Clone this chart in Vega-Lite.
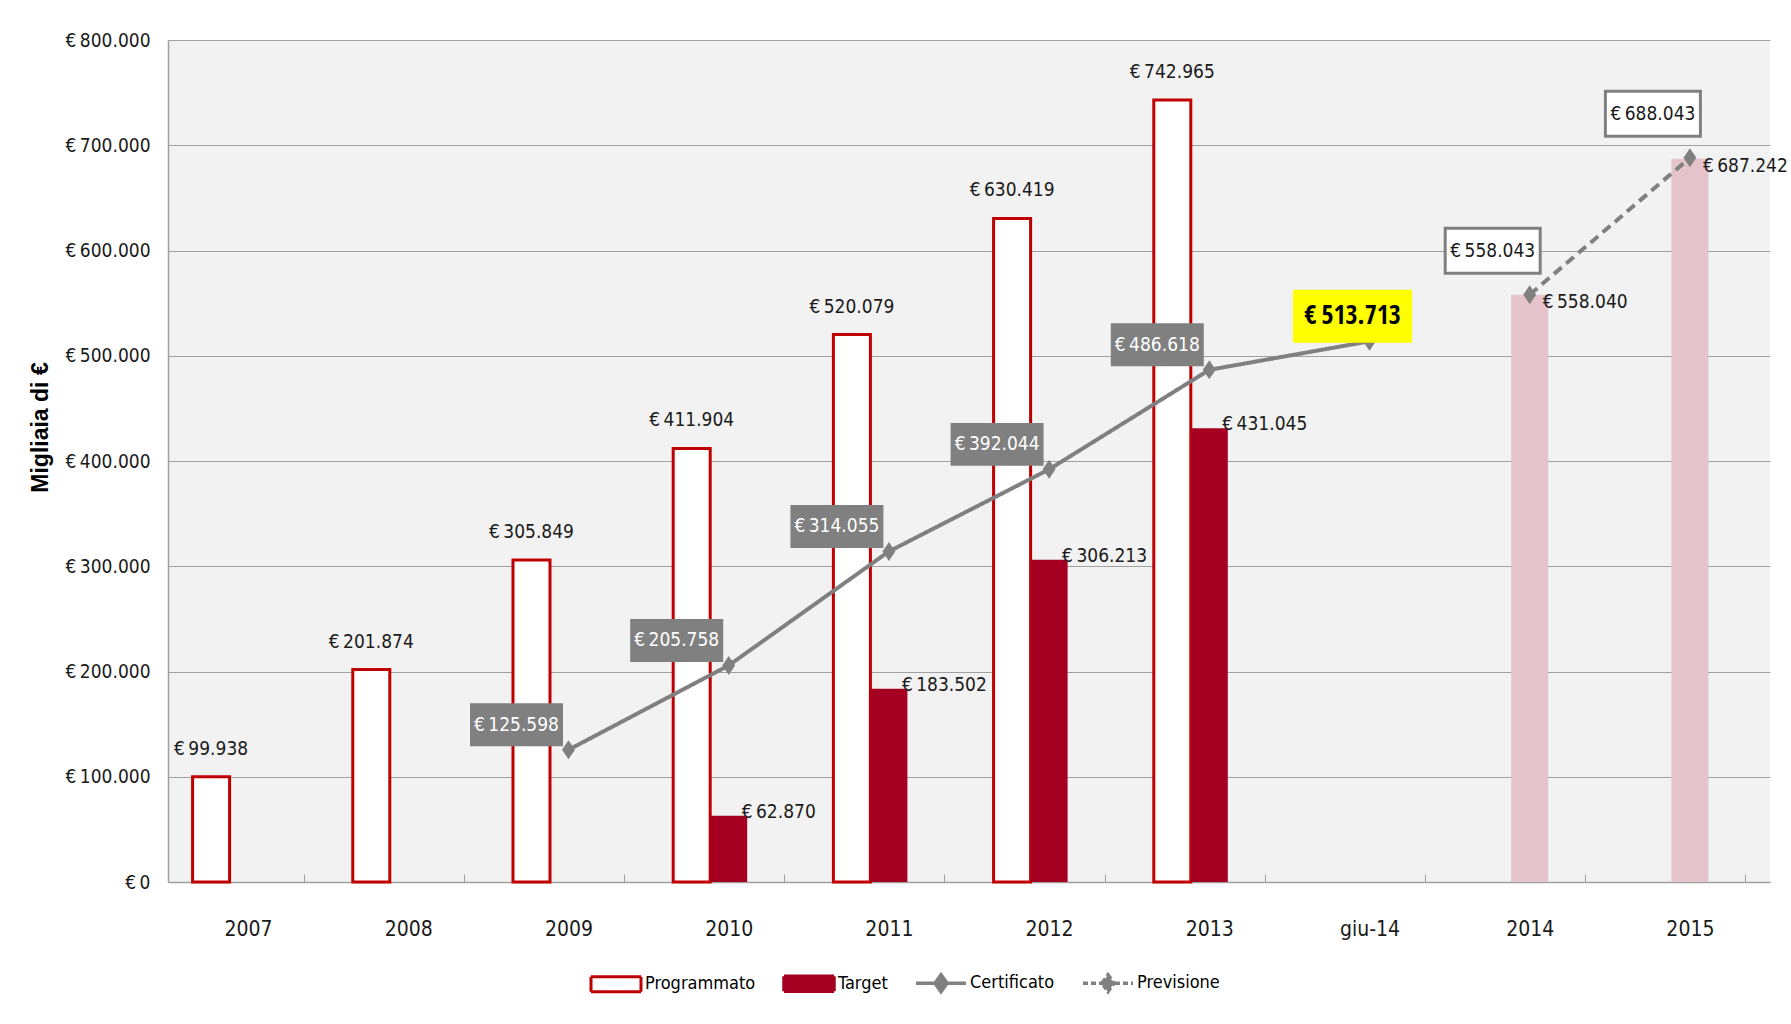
{
  "$schema": "https://vega.github.io/schema/vega-lite/v6.json",
  "width": 1602,
  "height": 842,
  "autosize": "none",
  "padding": {"left": 168, "top": 40, "right": 21, "bottom": 142},
  "background": "#FFFFFF",
  "datasets": {
    "barre": [
      {"anno": "2007", "serie": "Programmato", "tipo": "Consuntivo", "valore": 99938},
      {"anno": "2008", "serie": "Programmato", "tipo": "Consuntivo", "valore": 201874},
      {"anno": "2009", "serie": "Programmato", "tipo": "Consuntivo", "valore": 305849},
      {"anno": "2010", "serie": "Programmato", "tipo": "Consuntivo", "valore": 411904},
      {"anno": "2011", "serie": "Programmato", "tipo": "Consuntivo", "valore": 520079},
      {"anno": "2012", "serie": "Programmato", "tipo": "Consuntivo", "valore": 630419},
      {"anno": "2013", "serie": "Programmato", "tipo": "Consuntivo", "valore": 742965},
      {"anno": "2010", "serie": "Target", "tipo": "Consuntivo", "valore": 62870},
      {"anno": "2011", "serie": "Target", "tipo": "Consuntivo", "valore": 183502},
      {"anno": "2012", "serie": "Target", "tipo": "Consuntivo", "valore": 306213},
      {"anno": "2013", "serie": "Target", "tipo": "Consuntivo", "valore": 431045},
      {"anno": "2014", "serie": "Target", "tipo": "Previsto", "valore": 558040},
      {"anno": "2015", "serie": "Target", "tipo": "Previsto", "valore": 687242}
    ],
    "linee": [
      {"anno": "2009", "serie": "Certificato", "valore": 125598},
      {"anno": "2010", "serie": "Certificato", "valore": 205758},
      {"anno": "2011", "serie": "Certificato", "valore": 314055},
      {"anno": "2012", "serie": "Certificato", "valore": 392044},
      {"anno": "2013", "serie": "Certificato", "valore": 486618},
      {"anno": "giu-14", "serie": "Certificato", "valore": 513713},
      {"anno": "2014", "serie": "Previsione", "valore": 558043},
      {"anno": "2015", "serie": "Previsione", "valore": 688043}
    ]
  },
  "encoding": {
    "x": {
      "field": "anno", "type": "nominal",
      "scale": {"domain": ["2007","2008","2009","2010","2011","2012","2013","giu-14","2014","2015"], "paddingInner": 0.307, "paddingOuter": 0.1535},
      "axis": {
        "title": null, "labelAngle": 0, "labelFont": "DejaVu Sans Condensed, Liberation Sans", "labelFontSize": 21, "labelColor": "#1a1a1a",
        "labelPadding": 44, "domainColor": "#A0A0A0", "domainWidth": 1.5, "tickColor": "#A0A0A0", "tickSize": -8, "tickBand": "extent", "grid": false
      }
    },
    "y": {
      "field": "valore", "type": "quantitative",
      "scale": {"domain": [0, 800000], "nice": false},
      "axis": {
        "title": "Migliaia di €", "values": [0,100000,200000,300000,400000,500000,600000,700000,800000],
        "format": "$,.0f", "labelFont": "DejaVu Sans Condensed, Liberation Sans", "labelFontSize": 19, "labelColor": "#1a1a1a",
        "labelPadding": 18, "ticks": false, "grid": true, "gridColor": "#A0A0A0", "gridWidth": 1.2, "domainColor": "#A0A0A0", "domainWidth": 1.5,
        "titleFont": "Liberation Sans", "titleFontSize": 23, "titleFontWeight": "bold", "titleColor": "#000000",
        "titleX": -128, "titleY": 387, "titleAngle": 270, "titleAlign": "center", "titleBaseline": "middle"
      }
    }
  },
  "layer": [
    {
      "data": {"name": "barre"},
      "transform": [{"filter": "datum.serie == 'Programmato'"}],
      "mark": {"type": "bar", "fill": "#FFFFFF", "stroke": "#C00000", "strokeWidth": 3},
      "encoding": {"xOffset": {"field": "serie", "scale": {"domain": ["Programmato", "Target", "Altro"]}}}
    },
    {
      "data": {"name": "barre"},
      "transform": [{"filter": "datum.serie == 'Target' && datum.tipo == 'Consuntivo'"}],
      "mark": {"type": "bar", "fill": "#A50021"},
      "encoding": {"xOffset": {"field": "serie"}}
    },
    {
      "data": {"name": "barre"},
      "transform": [{"filter": "datum.tipo == 'Previsto'"}],
      "mark": {"type": "bar", "fill": "#E4C3CB"},
      "encoding": {"xOffset": {"field": "serie"}}
    },
    {
      "data": {"name": "linee"},
      "mark": {"type": "line", "strokeWidth": 4},
      "encoding": {
        "color": {
          "field": "serie", "type": "nominal",
          "scale": {"domain": ["Programmato", "Target", "Certificato", "Previsione"], "range": ["#C00000", "#A50021", "#808080", "#808080"]},
          "legend": {
            "title": null, "orient": "none", "legendX": 439, "legendY": 934, "direction": "horizontal",
            "symbolSize": 2500, "labelFont": "DejaVu Sans Condensed, Liberation Sans", "labelFontSize": 18, "labelColor": "#000000",
            "labelOffset": 20, "columnPadding": 21, "padding": 0,
            "encode": {
              "symbols": {
                "update": {
                  "shape": {"signal": "(datum.value == 'Certificato' || datum.value == 'Previsione') ? 'M-1,0H1M0,-0.34L0.24,0L0,0.34L-0.24,0Z' : 'M-1,-0.3H1V0.3H-1Z'"},
                  "fill": {"signal": "datum.value == 'Programmato' ? '#FFFFFF' : (datum.value == 'Target' ? '#A50021' : '#808080')"},
                  "stroke": {"signal": "datum.value == 'Programmato' ? '#C00000' : (datum.value == 'Target' ? '#A50021' : '#808080')"},
                  "strokeWidth": {"signal": "datum.value == 'Programmato' ? 3 : 3.5"},
                  "strokeDash": {"signal": "datum.value == 'Previsione' ? [5, 3] : [1, 0]"},
                  "opacity": {"value": 1},
                  "fillOpacity": {"value": 1}
                }
              }
            }
          }
        },
        "strokeDash": {
          "field": "serie", "type": "nominal",
          "scale": {"domain": ["Certificato", "Previsione"], "range": [[1, 0], [10, 6]]},
          "legend": null
        }
      }
    },
    {
      "data": {"name": "linee"},
      "mark": {"type": "point", "shape": "M0,-1L0.68,0L0,1L-0.68,0Z", "size": 361, "filled": true, "fill": "#808080", "opacity": 1, "strokeWidth": 0}
    },
    {
      "data": {"name": "barre"},
      "transform": [{"filter": "datum.serie == 'Programmato'"}],
      "mark": {"type": "text", "dy": -28, "baseline": "middle", "align": "center", "font": "DejaVu Sans Condensed, Liberation Sans", "fontSize": 19, "fill": "#1a1a1a"},
      "encoding": {"xOffset": {"field": "serie"}, "text": {"field": "valore", "type": "quantitative", "format": "$,.0f"}}
    },
    {
      "data": {"name": "barre"},
      "transform": [{"filter": "datum.serie == 'Target' && datum.tipo == 'Consuntivo'"}],
      "mark": {"type": "text", "dx": 13, "dy": -4, "baseline": "middle", "align": "left", "font": "DejaVu Sans Condensed, Liberation Sans", "fontSize": 19, "fill": "#1a1a1a"},
      "encoding": {"xOffset": {"field": "serie"}, "text": {"field": "valore", "type": "quantitative", "format": "$,.0f"}}
    },
    {
      "data": {"name": "barre"},
      "transform": [{"filter": "datum.tipo == 'Previsto'"}],
      "mark": {"type": "text", "dx": 13, "dy": 7, "baseline": "middle", "align": "left", "font": "DejaVu Sans Condensed, Liberation Sans", "fontSize": 19, "fill": "#1a1a1a"},
      "encoding": {"xOffset": {"field": "serie"}, "text": {"field": "valore", "type": "quantitative", "format": "$,.0f"}}
    },
    {
      "data": {"name": "linee"},
      "transform": [{"filter": "datum.serie == 'Certificato' && datum.anno != 'giu-14'"}],
      "mark": {"type": "point", "shape": "M-1,-0.462H1V0.462H-1Z", "size": 8649, "filled": true, "fill": "#808080", "opacity": 1, "strokeWidth": 0, "xOffset": -52, "yOffset": -25}
    },
    {
      "data": {"name": "linee"},
      "transform": [{"filter": "datum.anno == 'giu-14'"}],
      "mark": {"type": "point", "shape": "M-1,-0.445H1V0.445H-1Z", "size": 14161, "filled": true, "fill": "#FFFF00", "opacity": 1, "strokeWidth": 0, "xOffset": -17, "yOffset": -25}
    },
    {
      "data": {"name": "linee"},
      "transform": [{"filter": "datum.serie == 'Previsione'"}],
      "mark": {"type": "point", "shape": "M-1,-0.474H1V0.474H-1Z", "size": 9025, "filled": true, "fill": "#FFFFFF", "stroke": "#808080", "strokeWidth": 3, "opacity": 1, "xOffset": -37, "yOffset": -44}
    },
    {
      "data": {"name": "linee"},
      "transform": [{"filter": "datum.serie == 'Certificato' && datum.anno != 'giu-14'"}],
      "mark": {"type": "text", "dx": -52, "dy": -25, "baseline": "middle", "align": "center", "font": "DejaVu Sans Condensed, Liberation Sans", "fontSize": 19, "fill": "#FFFFFF"},
      "encoding": {"text": {"field": "valore", "type": "quantitative", "format": "$,.0f"}}
    },
    {
      "data": {"name": "linee"},
      "transform": [{"filter": "datum.anno == 'giu-14'"}],
      "mark": {"type": "text", "dx": -17, "dy": -25, "baseline": "middle", "align": "center", "font": "Open Sans Condensed", "fontSize": 26, "fontWeight": "bold", "fill": "#000000"},
      "encoding": {"text": {"field": "valore", "type": "quantitative", "format": "$,.0f"}}
    },
    {
      "data": {"name": "linee"},
      "transform": [{"filter": "datum.serie == 'Previsione'"}],
      "mark": {"type": "text", "dx": -37, "dy": -44, "baseline": "middle", "align": "center", "font": "DejaVu Sans Condensed, Liberation Sans", "fontSize": 19, "fill": "#1a1a1a"},
      "encoding": {"text": {"field": "valore", "type": "quantitative", "format": "$,.0f"}}
    }
  ],
  "config": {
    "locale": {"number": {"decimal": ",", "thousands": ".", "grouping": [3], "currency": ["€\u2009", ""]}},
    "view": {"fill": "#F2F2F2", "stroke": null}
  }
}
